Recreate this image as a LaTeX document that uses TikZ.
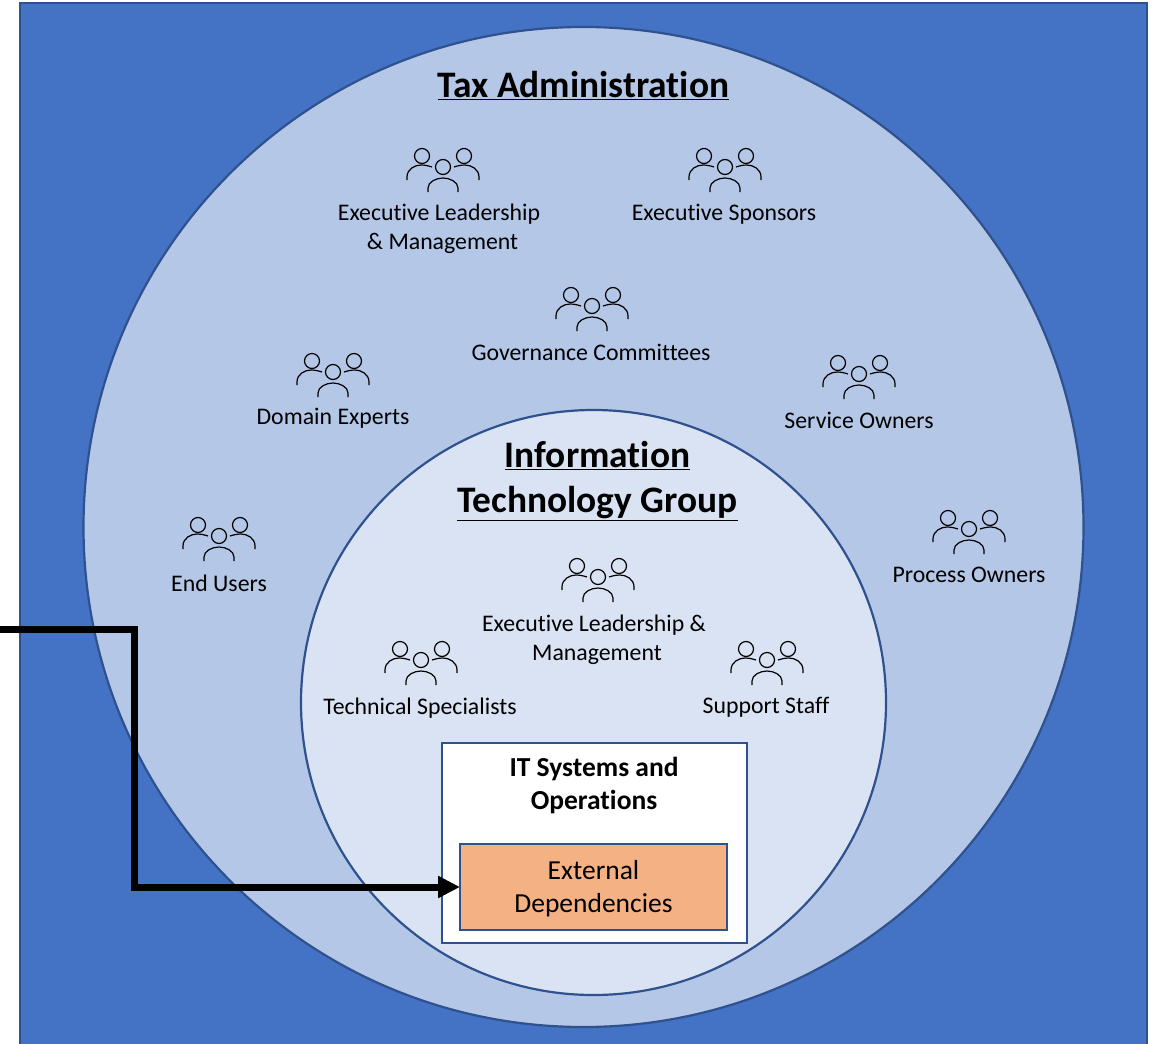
\documentclass[tikz,border=0pt]{standalone}
\usepackage{fontspec}
\setmainfont[RawFeature={-liga}]{Carlito}
\usetikzlibrary{arrows.meta}
\definecolor{outerblue}{HTML}{4472C4}
\definecolor{midblue}{HTML}{B4C7E7}
\definecolor{paleblue}{HTML}{DAE3F3}
\definecolor{edgeblue}{HTML}{2F528F}
\definecolor{extorange}{HTML}{F4B183}
\tikzset{
	people/.pic={
		\draw[line width=1.2pt] (-21,-11) circle (7.5) (21,-11) circle (7.5) (0,0) circle (7.5);
		\draw[line width=1.2pt] (-36,13) -- (-36,10) .. controls (-36,2) and (-28,-2) .. (-22,-2) .. controls (-18,-2) and (-14,-1) .. (-11,0);
		\draw[line width=1.2pt] (36,13) -- (36,10) .. controls (36,2) and (28,-2) .. (22,-2) .. controls (18,-2) and (14,-1) .. (11,0);
		\draw[line width=1.2pt] (-15,25) -- (-15,21) .. controls (-15,15) and (-7,11) .. (0,11) .. controls (7,11) and (15,15) .. (15,21) -- (15,25);
	}
}
\begin{document}
\begin{tikzpicture}[x=1pt,y=-1pt,
					circ/.style={draw=edgeblue,line width=2.2pt,circle,inner sep=0pt,outer sep=0pt},
					lbl/.style={font=\fontsize{23.8}{29}\selectfont,align=center,inner sep=0pt},
					title/.style={font=\fontsize{37.4}{45}\selectfont\bfseries,align=center,inner sep=0pt},
					sbox/.style={draw=edgeblue,line width=2.2pt,inner sep=0pt,outer sep=0pt,align=center}]
	\path[use as bounding box,clip] (0,0) rectangle (1155,1043);
	\node[sbox,fill=outerblue,minimum width=1127pt,minimum height=1060pt,anchor=north west] (org) at (20,3) {};
	\node[circ,fill=midblue,minimum size=1000pt] (tax) at (583.5,527) {};
	\node[circ,fill=paleblue,minimum size=585pt] (itg) at (593.5,702.5) {};
	\node[title] (taxtitle) at (583.5,86) {\underline{Tax Administration}};
	\node[title] (itgtitle) at (597.5,481) {\underline{Information}\\\underline{Technology Group}};
	% stakeholders
	\pic at (443,167) {people};
	\node[lbl] (execlead) at (439,229) {Executive Leadership\\\hspace*{7pt}\& Management};
	\pic at (725,167) {people};
	\node[lbl] (sponsors) at (724,214) {Executive Sponsors};
	\pic at (592,306) {people};
	\node[lbl] (gov) at (591,352) {Governance Committees};
	\pic at (333,372) {people};
	\node[lbl] (domain) at (333,418.5) {Domain Experts};
	\pic at (859,374) {people};
	\node[lbl] (service) at (859,420) {Service Owners};
	\pic at (219,536) {people};
	\node[lbl] (endusers) at (219,583) {End Users};
	\pic at (969,529) {people};
	\node[lbl] (process) at (969,575) {Process Owners};
	% IT group
	\pic at (598,577) {people};
	\node[lbl] (itexec) at (594,639.5) {Executive Leadership \&\\\hspace*{6pt}Management};
	\pic at (421,660) {people};
	\node[lbl] (tech) at (420,708) {Technical Specialists};
	\pic at (767,660) {people};
	\node[lbl] (support) at (766,707) {Support Staff};
	\node[sbox,fill=white,minimum width=305pt,minimum height=200pt,anchor=north west] (systems) at (442,743) {};
	\node[lbl,font=\fontsize{27.5}{33}\selectfont\bfseries] (systitle) at (594,786) {IT Systems and\\Operations};
	\node[sbox,fill=extorange,minimum width=267pt,minimum height=86pt,anchor=north west] (ext) at (460,844) {};
	\node[lbl,font=\fontsize{27.5}{33}\selectfont] (exttext) at (593.5,889) {External\\Dependencies};
	\coordinate (offpage) at (-5,629);
	\draw[line width=7pt,-{Triangle[length=22pt,width=21pt]}] (offpage) -- (134,629) |- (ext.west);
\end{tikzpicture}
\end{document}
